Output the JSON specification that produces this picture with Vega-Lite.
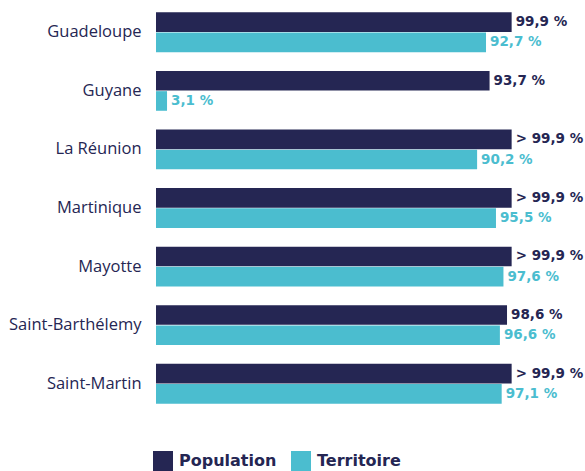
{
  "$schema": "https://vega.github.io/schema/vega-lite/v6.json",
  "autosize": {"type": "none"},
  "padding": {"left": 156, "top": 3, "right": 73, "bottom": 58},
  "width": 356,
  "height": 410,
  "background": "white",
  "config": {"view": {"stroke": null}, "font": "Open Sans"},
  "data": {
    "values": [
      {"region": "Guadeloupe", "series": "Population", "value": 99.9, "label": "99,9 %"},
      {"region": "Guadeloupe", "series": "Territoire", "value": 92.7, "label": "92,7 %"},
      {"region": "Guyane", "series": "Population", "value": 93.7, "label": "93,7 %"},
      {"region": "Guyane", "series": "Territoire", "value": 3.1, "label": "3,1 %"},
      {"region": "La Réunion", "series": "Population", "value": 99.9, "label": "> 99,9 %"},
      {"region": "La Réunion", "series": "Territoire", "value": 90.2, "label": "90,2 %"},
      {"region": "Martinique", "series": "Population", "value": 99.9, "label": "> 99,9 %"},
      {"region": "Martinique", "series": "Territoire", "value": 95.5, "label": "95,5 %"},
      {"region": "Mayotte", "series": "Population", "value": 99.9, "label": "> 99,9 %"},
      {"region": "Mayotte", "series": "Territoire", "value": 97.6, "label": "97,6 %"},
      {"region": "Saint-Barthélemy", "series": "Population", "value": 98.6, "label": "98,6 %"},
      {"region": "Saint-Barthélemy", "series": "Territoire", "value": 96.6, "label": "96,6 %"},
      {"region": "Saint-Martin", "series": "Population", "value": 99.9, "label": "> 99,9 %"},
      {"region": "Saint-Martin", "series": "Territoire", "value": 97.1, "label": "97,1 %"}
    ]
  },
  "encoding": {
    "y": {
      "field": "region", "type": "nominal", "sort": null,
      "scale": {"paddingInner": 0.32, "paddingOuter": 0.16},
      "axis": {"title": null, "domain": false, "ticks": false, "labelPadding": 15, "labelFontSize": 16.5, "labelColor": "#252653", "labelFont": "Open Sans"}
    },
    "yOffset": {
      "field": "series", "type": "nominal", "sort": ["Population", "Territoire"],
      "scale": {"paddingInner": 0.03}
    },
    "x": {
      "field": "value", "type": "quantitative",
      "scale": {"domain": [0, 100], "nice": false},
      "axis": null
    }
  },
  "layer": [
    {
      "mark": {"type": "bar"},
      "encoding": {
        "color": {
          "field": "series", "type": "nominal",
          "scale": {"domain": ["Population", "Territoire"], "range": ["#252653", "#4bbdcf"]},
          "legend": {
            "title": null, "orient": "none", "legendX": -3, "legendY": 448,
            "direction": "horizontal", "symbolType": "square", "symbolSize": 400,
            "symbolStrokeWidth": 0, "labelFontSize": 16, "labelFontWeight": "bold",
            "labelColor": "#252653", "labelFont": "DejaVu Sans", "labelOffset": 6, "columnPadding": 14
          }
        }
      }
    },
    {
      "mark": {"type": "text", "align": "left", "baseline": "middle", "dx": 4, "fontSize": 13.5, "fontWeight": "bold", "font": "DejaVu Sans"},
      "encoding": {
        "text": {"field": "label"},
        "color": {"field": "series", "type": "nominal", "legend": null}
      }
    }
  ]
}
